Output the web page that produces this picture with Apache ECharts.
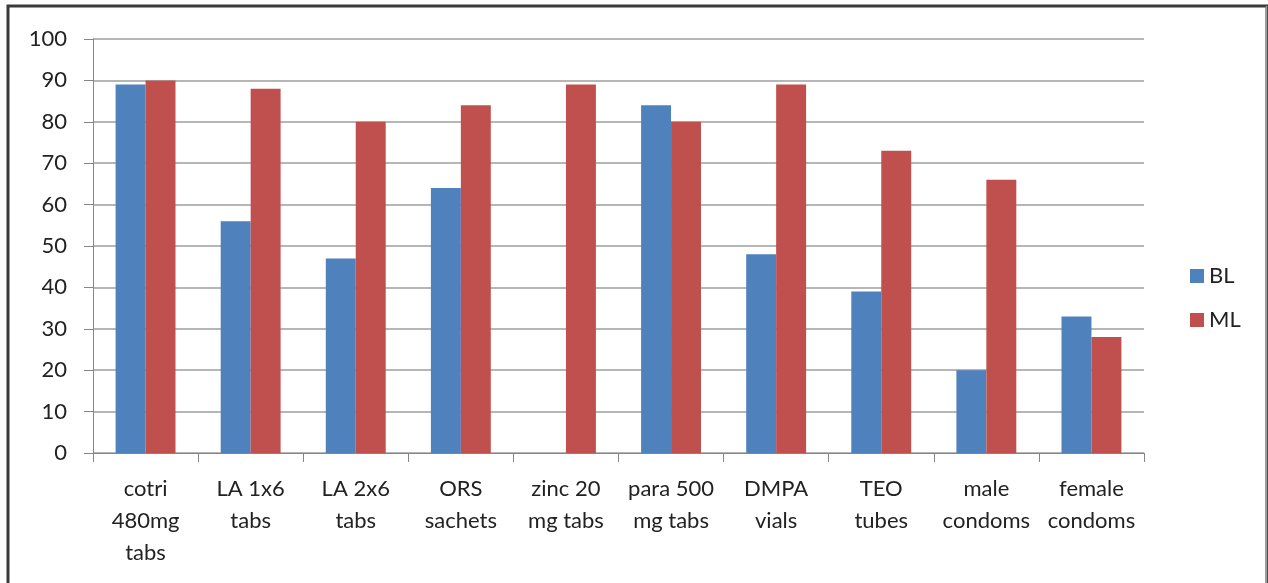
<!DOCTYPE html>
<html>
<head>
<meta charset="utf-8">
<script src="https://cdn.jsdelivr.net/npm/echarts@6/dist/echarts.min.js"></script>
<style>
html,body{margin:0;padding:0;background:#fff;}
#chart{width:1268px;height:583px;}
</style>
</head>
<body>
<div id="chart"></div>
<script>
const categories = ['cotri\n480mg\ntabs', 'LA 1x6\ntabs', 'LA 2x6\ntabs', 'ORS\nsachets', 'zinc 20\nmg tabs', 'para 500\nmg tabs', 'DMPA\nvials', 'TEO\ntubes', 'male\ncondoms', 'female\ncondoms'];
const blValues = [89, 56, 47, 64, 0, 84, 48, 39, 20, 33];
const mlValues = [90, 88, 80, 84, 89, 80, 89, 73, 66, 28];
const yTicks = { min: 0, max: 100, interval: 10 };

const chart = echarts.init(document.getElementById('chart'), null, { renderer: 'canvas' });
const fontFamily = 'Lato, "Open Sans", sans-serif';
chart.setOption({
  animation: false,
  backgroundColor: '#ffffff',
  graphic: [
    { type: 'rect', shape: { x: 8, y: 6, width: 1259, height: 600 }, style: { fill: 'none', stroke: '#3a3a3a', lineWidth: 3 }, z: 100 },
    { type: 'line', shape: { x1: 1266.5, y1: 6, x2: 1266.5, y2: 583 }, style: { stroke: '#9a9a9a', lineWidth: 1.5 }, z: 101 }
  ],
  grid: { left: 93, right: 124, top: 39, bottom: 130, containLabel: false },
  legend: {
    orient: 'vertical',
    left: 1185,
    top: 260,
    itemWidth: 14,
    itemHeight: 14,
    itemGap: 22,
    icon: 'rect',
    textStyle: { fontFamily: fontFamily, fontSize: 22, color: '#222' },
    data: ['BL', 'ML']
  },
  xAxis: {
    type: 'category',
    data: categories,
    axisLine: { lineStyle: { color: '#868686', width: 1 } },
    axisTick: { show: true, length: 9, lineStyle: { color: '#868686' } },
    axisLabel: { interval: 0, fontFamily: fontFamily, fontSize: 22, color: '#222', lineHeight: 32, margin: 20 }
  },
  yAxis: {
    type: 'value',
    min: yTicks.min,
    max: yTicks.max,
    interval: yTicks.interval,
    axisLine: { show: true, lineStyle: { color: '#868686', width: 1 } },
    axisTick: { show: true, length: 9, lineStyle: { color: '#868686' } },
    splitLine: { show: true, lineStyle: { color: '#9e9e9e', width: 1.5 } },
    axisLabel: { fontFamily: fontFamily, fontSize: 22, color: '#222', margin: 26 }
  },
  series: [
    { name: 'BL', type: 'bar', data: blValues, barGap: '0%', barCategoryGap: '43%', itemStyle: { color: '#4F81BD' } },
    { name: 'ML', type: 'bar', data: mlValues, barGap: '0%', barCategoryGap: '43%', itemStyle: { color: '#C0504D' } }
  ]
});
</script>
</body>
</html>
